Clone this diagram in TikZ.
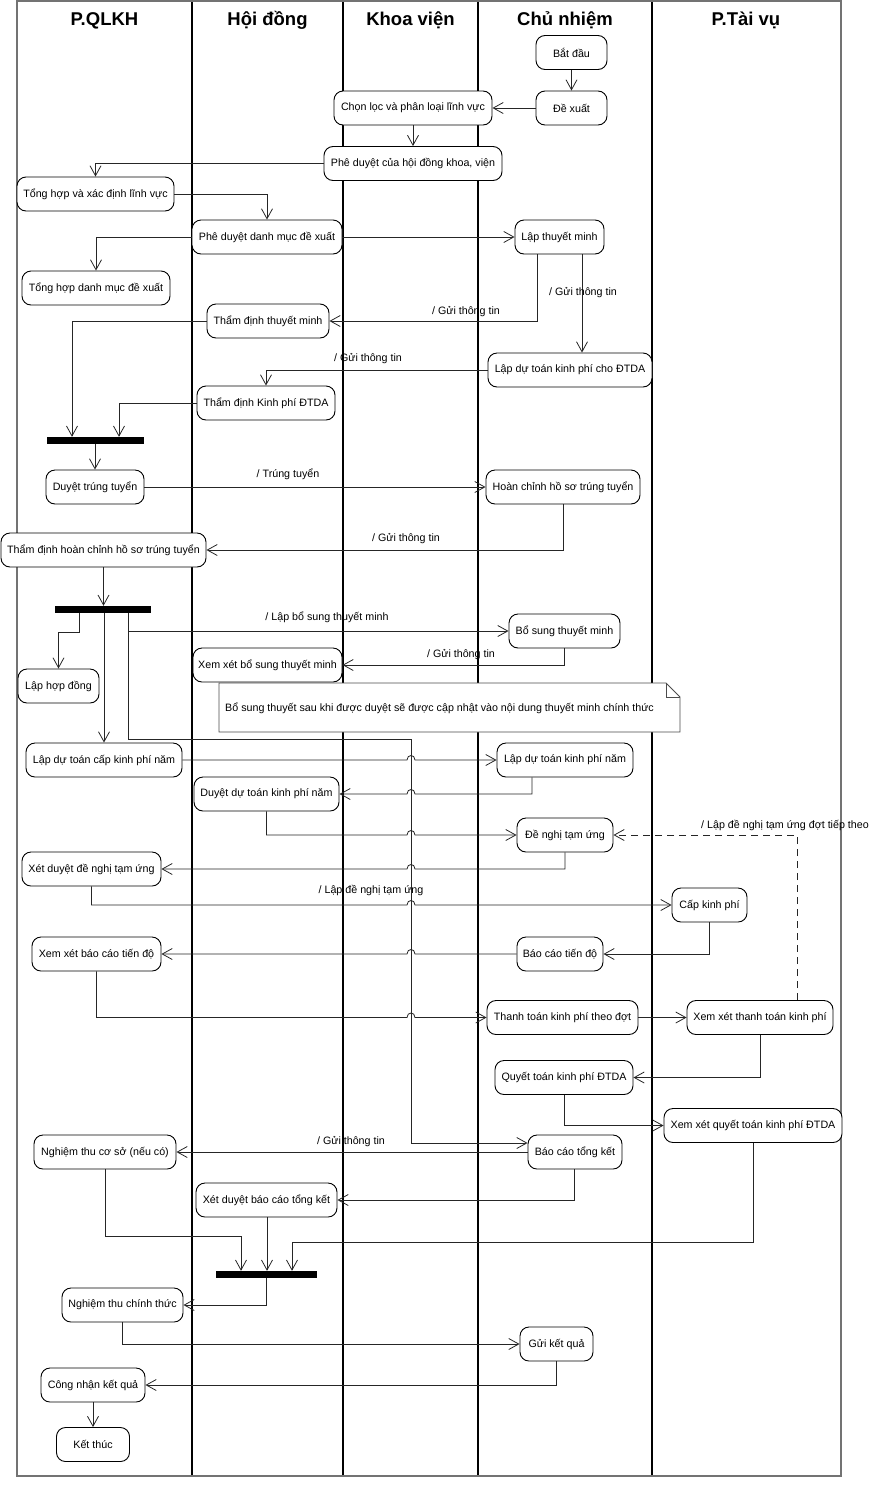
\documentclass[tikz,border=0pt]{standalone}
\usepackage{fontspec}
\setmainfont{Liberation Sans}
\usetikzlibrary{arrows.meta}
\newcommand\nf{\fontsize{10.7}{12.5}\selectfont}
\newcommand\hf{\fontsize{18.5}{21}\selectfont\bfseries}
\begin{document}
\begin{tikzpicture}[x=1pt,y=-1pt,
 act/.style={draw=black, line width=0.9pt, fill=white, rounded corners=9pt, minimum height=34pt, inner sep=0pt, font=\nf},
 barnode/.style={fill=black, draw=none, minimum height=7pt, inner sep=0pt},
 arr/.style={draw=black!85, line width=0.8pt, -{Straight Barb[length=10pt,width=11pt]}},
 lbl/.style={font=\nf, inner sep=0pt},
 hdr/.style={font=\hf, inner sep=0pt, anchor=base},
 lane/.style={line width=1.2pt, draw=black},
 frame/.style={line width=1.6pt, draw=black!55},
]
\useasboundingbox (0,0) rectangle (870,1486);
% lanes
\draw[lane] (192,1) -- (192,1476);
\draw[lane] (343,1) -- (343,1476);
\draw[lane] (478,1) -- (478,1476);
\draw[lane] (652,1) -- (652,1476);
\draw[frame] (17,1) rectangle (841,1476);
\node[hdr] (h1) at (104.5,25) {P.QLKH};
\node[hdr] (h2) at (267.5,25) {Hội đồng};
\node[hdr] (h3) at (410.5,25) {Khoa viện};
\node[hdr] (h4) at (565,25) {Chủ nhiệm};
\node[hdr] (h5) at (746,25) {P.Tài vụ};
% nodes
\node[act,minimum width=71pt] (start) at (571.5,52.5) {Bắt đầu};
\node[act,minimum width=71pt] (dexuat) at (571.5,108) {Đề xuất};
\node[act,minimum width=158pt] (chonloc) at (413,108) {Chọn lọc và phân loại lĩnh vực};
\node[act,minimum width=178pt] (pheduyet) at (413,163.5) {Phê duyệt của hội đồng khoa, viện};
\node[act,minimum width=157pt] (tonghop1) at (95.5,194) {Tổng hợp và xác định lĩnh vực};
\node[act,minimum width=150pt] (pddm) at (267,237) {Phê duyệt danh mục đề xuất};
\node[act,minimum width=148pt] (thdm) at (96,288) {Tổng hợp danh mục đề xuất};
\node[act,minimum width=89pt] (ltm) at (559.5,237) {Lập thuyết minh};
\node[act,minimum width=122pt] (tdtm) at (268,321) {Thẩm định thuyết minh};
\node[act,minimum width=164pt] (ldt) at (570,370) {Lập dự toán kinh phí cho ĐTDA};
\node[act,minimum width=138pt] (tdkp) at (266,403) {Thẩm định Kinh phí ĐTDA};
\node[barnode,minimum width=97pt] (bar1) at (95.5,440.5) {};
\node[act,minimum width=98pt] (dtt) at (95,487) {Duyệt trúng tuyển};
\node[act,minimum width=154pt] (hc) at (563,487) {Hoàn chỉnh hồ sơ trúng tuyển};
\node[act,minimum width=205pt] (tdhc) at (103.5,550) {Thẩm định hoàn chỉnh hồ sơ trúng tuyển};
\node[barnode,minimum width=96pt] (bar2) at (103,609.5) {};
\node[act,minimum width=111pt] (bstm) at (564.5,631) {Bổ sung thuyết minh};
\node[act,minimum width=149pt] (xxbs) at (267.5,665) {Xem xét bổ sung thuyết minh};
\node[act,minimum width=81pt] (lhd) at (58.5,686) {Lập hợp đồng};
\draw[line width=0.9pt, draw=black!70, fill=white] (219,683) -- (666,683) -- (680,697) -- (680,732) -- (219,732) -- cycle;
\draw[line width=0.9pt, draw=black!70] (666,683) -- (666,697) -- (680,697);
\node[lbl, anchor=west] (notetext) at (225,708) {Bổ sung thuyết sau khi được duyệt sẽ được cập nhật vào nội dung thuyết minh chính thức};
\node[act,minimum width=156pt] (ldtc) at (104,760) {Lập dự toán cấp kinh phí năm};
\node[act,minimum width=136pt] (ldtn) at (565,760) {Lập dự toán kinh phí năm};
\node[act,minimum width=145pt] (ddt) at (266.5,794) {Duyệt dự toán kinh phí năm};
\node[act,minimum width=96pt] (dntu) at (565,835) {Đề nghị tạm ứng};
\node[act,minimum width=139pt] (xddn) at (91.5,869) {Xét duyệt đề nghị tạm ứng};
\node[act,minimum width=75pt] (ckp) at (709.5,905) {Cấp kinh phí};
\node[act,minimum width=86pt] (bctd) at (560,954) {Báo cáo tiến độ};
\node[act,minimum width=129pt] (xxbc) at (96.5,954) {Xem xét báo cáo tiến độ};
\node[act,minimum width=151pt] (tt) at (562.5,1017.5) {Thanh toán kinh phí theo đợt};
\node[act,minimum width=146pt] (xxtt) at (760,1017.5) {Xem xét thanh toán kinh phí};
\node[act,minimum width=138pt] (qt) at (564,1077.5) {Quyết toán kinh phí ĐTDA};
\node[act,minimum width=178pt] (xxqt) at (753,1125.5) {Xem xét quyết toán kinh phí ĐTDA};
\node[act,minimum width=94pt] (bctk) at (575,1152) {Báo cáo tổng kết};
\node[act,minimum width=142pt] (ntcs) at (105,1152) {Nghiệm thu cơ sở (nếu có)};
\node[act,minimum width=141pt] (xdbc) at (266.5,1200) {Xét duyệt báo cáo tổng kết};
\node[barnode,minimum width=101pt] (bar3) at (266.5,1274.5) {};
\node[act,minimum width=121pt] (ntct) at (122.5,1305) {Nghiệm thu chính thức};
\node[act,minimum width=73pt] (gkq) at (556.5,1344) {Gửi kết quả};
\node[act,minimum width=104pt] (cnkq) at (93,1385) {Công nhận kết quả};
\node[act,minimum width=73pt] (kt) at (93,1444.5) {Kết thúc};
\coordinate (v1) at (411,739);
\coordinate (bk) at ([yshift=9pt]bctk.west);
% connectors
\draw[arr] (start) -- (dexuat);
\draw[arr] (dexuat) -- (chonloc);
\draw[arr] (chonloc) -- (pheduyet);
\draw[arr] (pheduyet.west) -| (tonghop1.north);
\draw[arr] (tonghop1.east) -| (pddm.north);
\draw[arr] (pddm.west) -| (thdm.north);
\draw[arr] (pddm.east) -- (ltm.west);
\draw[arr] (ltm.south -| 537,0) |- (tdtm.east);
\node[lbl] (l1) at (466,312) {/ Gửi thông tin};
\draw[arr] (ltm.south -| 582,0) -- (ldt.north -| 582,0);
\node[lbl] (l2) at (583,293) {/ Gửi thông tin};
\draw[arr] (ldt.west) -| (tdkp.north);
\node[lbl] (l3) at (368,359) {/ Gửi thông tin};
\draw[arr] (tdtm.west) -| (bar1.north -| 72,0);
\draw[arr] (tdkp.west) -| (bar1.north -| 119,0);
\draw[arr] (bar1.south -| dtt.north) -- (dtt.north);
\draw[arr] (dtt) -- (hc);
\node[lbl] (l4) at (288,474) {/ Trúng tuyển};
\draw[arr] (hc.south) |- (tdhc.east);
\node[lbl] (l5) at (406,539) {/ Gửi thông tin};
\draw[arr] (tdhc.south) -- (tdhc.south |- bar2.north);
\draw[arr] (bar2.south -| 79,0) -- ++(0,19) -| (lhd.north);
\draw[arr] (bar2.south -| ldtc.north) -- (ldtc.north);
\draw[arr] (bar2.south -| 128,0) |- (bstm.west);
\node[lbl] (l6) at (327,617) {/ Lập bổ sung thuyết minh};
\draw[arr] (bar2.south -| 128,0) |- (v1) -- (v1 |- bk) -- (bk);
\draw[arr] (bstm.south) |- (xxbs.east);
\node[lbl] (l7) at (461,655) {/ Gửi thông tin};
\draw[arr] (ldtc.east) -- (407,760) .. controls (407,754) and (415,754) .. (415,760) -- (ldtn.west);
\draw[arr] (ldtn.south -| 532,0) |- (415,794) .. controls (415,788) and (407,788) .. (407,794) -- (ddt.east);
\draw[arr] (ddt.south) |- (407,835) .. controls (407,829) and (415,829) .. (415,835) -- (dntu.west);
\draw[arr] (dntu.south) |- (415,869) .. controls (415,863) and (407,863) .. (407,869) -- (xddn.east);
\draw[arr] (xddn.south) |- (407,905) .. controls (407,899) and (415,899) .. (415,905) -- (ckp.west);
\node[lbl] (l8) at (371,890) {/ Lập đề nghị tạm ứng};
\draw[arr] (ckp.south) |- (bctd.east);
\draw[arr] (bctd.west) -- (415,954) .. controls (415,948) and (407,948) .. (407,954) -- (xxbc.east);
\draw[arr] (xxbc.south) |- (407,1017.5) .. controls (407,1011.5) and (415,1011.5) .. (415,1017.5) -- (tt.west);
\draw[arr] (tt) -- (xxtt);
\draw[arr, dash pattern=on 7pt off 5pt] (xxtt.north -| 797,0) |- (dntu.east);
\node[lbl] (l9) at (785,825) {/ Lập đề nghị tạm ứng đợt tiếp theo};
\draw[arr] (xxtt.south) |- (qt.east);
\draw[arr] (qt.south) |- (xxqt.west);
\draw[arr] (bctk.west) -- (ntcs.east);
\node[lbl] (l10) at (351,1142) {/ Gửi thông tin};
\draw[arr] (bctk.south -| 574,0) |- (xdbc.east);
\draw[arr] (ntcs.south) -- ++(0,67) -| (bar3.north -| 241,0);
\draw[arr] (xdbc.south -| 267,0) -- (bar3.north -| 267,0);
\draw[arr] (xxqt.south) -- ++(0,99) -| (bar3.north -| 292,0);
\draw[arr] (bar3.south) |- (ntct.east);
\draw[arr] (ntct.south) |- (gkq.west);
\draw[arr] (gkq.south) |- (cnkq.east);
\draw[arr] (cnkq) -- (kt);
\end{tikzpicture}
\end{document}
